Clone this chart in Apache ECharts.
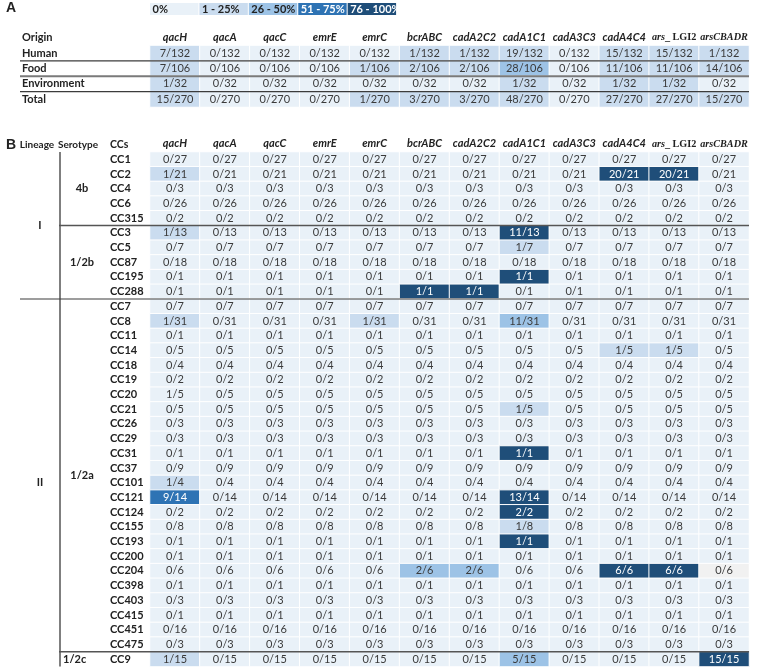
<!DOCTYPE html>
<html><head><meta charset="utf-8">
<script src="https://cdn.jsdelivr.net/npm/echarts@6/dist/echarts.min.js"></script>
<style>html,body{margin:0;padding:0;background:#fff}#c{width:758px;height:669px}</style>
</head><body><div id="c"></div>
<script>
// ---------- DATA ----------
const genes = ['qacH','qacA','qacC','emrE','emrC','bcrABC','cadA2C2','cadA1C1','cadA3C3','cadA4C4','ars_LGI2','arsCBADR'];
const legendClasses = ['0%','1 - 25%','26 - 50%','51 - 75%','76 - 100%'];

// Table A (by origin)
const originRows   = ['Human','Food','Environment','Total'];
const originTotals = [132, 106, 32, 270];
const originHuman       = [7,0,0,0,0,1,1,19,0,15,15,1];
const originFood        = [7,0,0,0,1,2,2,28,0,11,11,14];
const originEnvironment = [1,0,0,0,0,0,0,1,0,1,1,0];
const originTotal       = [15,0,0,0,1,3,3,48,0,27,27,15];

// Table B (by clonal complex)
const ccs = ['CC1','CC2','CC4','CC6','CC315','CC3','CC5','CC87','CC195','CC288',
  'CC7','CC8','CC11','CC14','CC18','CC19','CC20','CC21','CC26','CC29','CC31','CC37','CC101','CC121','CC124','CC155','CC193','CC200','CC204','CC398','CC403','CC415','CC451','CC475',
  'CC9'];
const ccTotals = [27,21,3,26,2, 13,7,18,1,1,
  7,31,1,5,4,2,5,5,3,3,1,9,4,14,2,8,1,1,6,1,3,1,16,3,
  15];
const ccQacH     = [0,1,0,0,0, 1,0,0,0,0, 0,1,0,0,0,0,1,0,0,0,0,0,1,9,0,0,0,0,0,0,0,0,0,0, 1];
const ccQacA     = [0,0,0,0,0, 0,0,0,0,0, 0,0,0,0,0,0,0,0,0,0,0,0,0,0,0,0,0,0,0,0,0,0,0,0, 0];
const ccQacC     = [0,0,0,0,0, 0,0,0,0,0, 0,0,0,0,0,0,0,0,0,0,0,0,0,0,0,0,0,0,0,0,0,0,0,0, 0];
const ccEmrE     = [0,0,0,0,0, 0,0,0,0,0, 0,0,0,0,0,0,0,0,0,0,0,0,0,0,0,0,0,0,0,0,0,0,0,0, 0];
const ccEmrC     = [0,0,0,0,0, 0,0,0,0,0, 0,1,0,0,0,0,0,0,0,0,0,0,0,0,0,0,0,0,0,0,0,0,0,0, 0];
const ccBcrABC   = [0,0,0,0,0, 0,0,0,0,1, 0,0,0,0,0,0,0,0,0,0,0,0,0,0,0,0,0,0,2,0,0,0,0,0, 0];
const ccCadA2C2  = [0,0,0,0,0, 0,0,0,0,1, 0,0,0,0,0,0,0,0,0,0,0,0,0,0,0,0,0,0,2,0,0,0,0,0, 0];
const ccCadA1C1  = [0,0,0,0,0, 11,1,0,1,0, 0,11,0,0,0,0,0,1,0,0,1,0,0,13,2,1,1,0,0,0,0,0,0,0, 5];
const ccCadA3C3  = [0,0,0,0,0, 0,0,0,0,0, 0,0,0,0,0,0,0,0,0,0,0,0,0,0,0,0,0,0,0,0,0,0,0,0, 0];
const ccCadA4C4  = [0,20,0,0,0, 0,0,0,0,0, 0,0,0,1,0,0,0,0,0,0,0,0,0,0,0,0,0,0,6,0,0,0,0,0, 0];
const ccArsLGI2  = [0,20,0,0,0, 0,0,0,0,0, 0,0,0,1,0,0,0,0,0,0,0,0,0,0,0,0,0,0,6,0,0,0,0,0, 0];
const ccArsCBADR = [0,0,0,0,0, 0,0,0,0,0, 0,0,0,0,0,0,0,0,0,0,0,0,0,0,0,0,0,0,0,0,0,0,0,0, 15];

const lineageGroups  = [['I','CC1','CC288'], ['II','CC7','CC9']];
const serotypeGroups = [['4b','CC1','CC315'], ['1/2b','CC3','CC288'], ['1/2a','CC7','CC475'], ['1/2c','CC9','CC9']];

// ---------- STYLE ----------
const classColors = ['#e9f1f8','#cadcef','#9dc3e6','#2e73b4','#1f4e79'];
const fillOverrides = [['CC20','qacH','#e9f1f8'], ['CC204','arsCBADR','#f1f1f1']];
const FONT = 'Lato';

function classOf(n, d){
  const p = n / d * 100;
  if (n === 0) return 0;
  if (p <= 25) return 1;
  if (p <= 50) return 2;
  if (p <= 75) return 3;
  return 4;
}
function cell(x, y, n, d, rowName){
  let k = classOf(n, d);
  let color = classColors[k];
  const ov = fillOverrides.find(o => o[0] === rowName && o[1] === genes[x]);
  if (ov) color = ov[2];
  return {
    value: [x, y, n / d], num: n, den: d,
    itemStyle: { color: color },
    label: { color: k >= 3 && !ov ? '#ffffff' : '#3a3a3a' }
  };
}

const aRows = [originHuman, originFood, originEnvironment, originTotal];
const dataA = [];
aRows.forEach((row, y) => row.forEach((n, x) => dataA.push(cell(x, y, n, originTotals[y], originRows[y]))));

const bCols = [ccQacH, ccQacA, ccQacC, ccEmrE, ccEmrC, ccBcrABC, ccCadA2C2, ccCadA1C1, ccCadA3C3, ccCadA4C4, ccArsLGI2, ccArsCBADR];
const dataB = [];
bCols.forEach((col, x) => col.forEach((n, y) => dataB.push(cell(x, y, n, ccTotals[y], ccs[y]))));

function geneLabel(g){
  if (g === 'ars_LGI2') return '{ti|ars}{tr|_ LGI2}';
  if (g === 'arsCBADR') return '{ti|arsCBADR}';
  return '{gi|' + g + '}';
}
const geneRich = {
  gi: { fontFamily: FONT, fontStyle: 'italic', fontWeight: 'bold', fontSize: 11, color: '#222' },
  ti: { fontFamily: 'Liberation Serif', fontStyle: 'italic', fontWeight: 'bold', fontSize: 10.2, color: '#222' },
  tr: { fontFamily: 'Liberation Serif', fontWeight: 'bold', fontSize: 10.2, color: '#222' }
};

function xAxisFor(gi, margin){
  return { type: 'category', gridIndex: gi, data: genes, position: 'top',
    axisLine: { show: false }, axisTick: { show: false }, splitLine: { show: false },
    axisLabel: { margin: margin, interval: 0, hideOverlap: false, formatter: geneLabel, rich: geneRich } };
}
function yAxisFor(gi, data, margin){
  return { type: 'category', gridIndex: gi, data: data, inverse: true,
    axisLine: { show: false }, axisTick: { show: false }, splitLine: { show: false },
    axisLabel: { margin: margin, align: 'left', interval: 0, fontFamily: FONT, fontWeight: 'bold', fontSize: 11, color: '#222' } };
}
const cellLabel = { show: true, fontFamily: FONT, fontSize: 11,
  formatter: p => p.data.num + '/' + p.data.den };

const chart = echarts.init(document.getElementById('c'), null, { renderer: 'canvas' });
chart.setOption({
  animation: false,
  backgroundColor: '#ffffff',
  grid: [
    { left: 150, right: 9, top: 45.5, height: 61.5 },
    { left: 150, right: 9, top: 152, height: 514.5 }
  ],
  xAxis: [ xAxisFor(0, 3), xAxisFor(1, 3) ],
  yAxis: [ yAxisFor(0, originRows, 128), yAxisFor(1, ccs, 40) ],
  series: [
    { type: 'heatmap', xAxisIndex: 0, yAxisIndex: 0, data: dataA,
      itemStyle: { borderColor: '#ffffff', borderWidth: 1 }, label: cellLabel, emphasis: { disabled: true } },
    { type: 'heatmap', xAxisIndex: 1, yAxisIndex: 1, data: dataB,
      itemStyle: { borderColor: '#ffffff', borderWidth: 1 }, label: cellLabel, emphasis: { disabled: true } }
  ]
});

// ---------- decorations placed from the axes ----------
const yA = v => chart.convertToPixel({ yAxisIndex: 0 }, v);
const yB = v => chart.convertToPixel({ yAxisIndex: 1 }, v);
const xB = v => chart.convertToPixel({ xAxisIndex: 1 }, v);
const rowH = yB(ccs[1]) - yB(ccs[0]);
const colW = xB(genes[1]) - xB(genes[0]);
const leftX = xB(genes[0]) - colW / 2;
const rightX = xB(genes[genes.length - 1]) + colW / 2;
const rowHA = yA(originRows[1]) - yA(originRows[0]);

const g = [];
function hline(x1, x2, y, color, w){
  g.push({ type: 'line', shape: { x1: x1, y1: y, x2: x2, y2: y }, style: { stroke: color, lineWidth: w }, z: 10 });
}
function txt(x, y, s, opt){
  g.push({ type: 'text', x: x, y: y, z: 10, style: Object.assign({ text: s, fontFamily: FONT, fontSize: 11, fontWeight: 'bold', fill: '#222', textVerticalAlign: 'middle', textAlign: 'left' }, opt || {}) });
}

// legend
legendClasses.forEach((t, i) => {
  const x0 = leftX + i * colW * 0.99;
  g.push({ type: 'rect', shape: { x: x0, y: 3, width: colW * 0.99 - 1, height: 12 }, style: { fill: classColors[i] }, z: 5 });
  txt(x0 + 2.5, 9.5, t, { fill: i >= 3 ? '#ffffff' : '#222', fontWeight: 'bold' });
});

// titles / headers
const headA = yA(originRows[0]) - rowHA;
txt(6, 8, 'A', { fontSize: 14, fontFamily: 'Liberation Sans' });
txt(22, headA, 'Origin');
const headB = yB(ccs[0]) - rowH;
txt(6, headB, 'B', { fontSize: 14, fontFamily: 'Liberation Sans' });
txt(37, headB, 'Lineage', { textAlign: 'center', fontSize: 10 });
txt(78, headB, 'Serotype', { textAlign: 'center', fontSize: 10 });
txt(110, headB, 'CCs', { fontSize: 10.5 });

// table A lines
hline(20, rightX, (yA('Human') + yA('Food')) / 2, '#3c3c3c', 1.2);
hline(20, rightX, (yA('Food') + yA('Environment')) / 2, '#7a7a7a', 2);
hline(20, rightX, (yA('Environment') + yA('Total')) / 2, '#3c3c3c', 1.2);

// table B group labels and separators
const topB = yB(ccs[0]) - rowH / 2;
const botB = yB(ccs[ccs.length - 1]) + rowH / 2;
g.push({ type: 'line', shape: { x1: 60, y1: topB, x2: 60, y2: botB }, style: { stroke: '#7f7f7f', lineWidth: 2 }, z: 10 });
lineageGroups.forEach((lg, i) => {
  const yc = (yB(lg[1]) + yB(lg[2])) / 2;
  txt(40, yc, lg[0], { textAlign: 'center' });
  if (i > 0) hline(20, rightX, yB(lg[1]) - rowH / 2, '#3c3c3c', 1.2);
});
serotypeGroups.forEach((sg, i) => {
  const yc = (yB(sg[1]) + yB(sg[2])) / 2;
  if (sg[1] === sg[2]) txt(63, yc, sg[0]);
  else txt(82, yc, sg[0], { textAlign: 'center' });
  if (i > 0 && !lineageGroups.some(l => l[1] === sg[1])) hline(59, rightX, yB(sg[1]) - rowH / 2, '#555555', 1.5);
});

chart.setOption({ graphic: { elements: g } });
</script>
</body></html>
